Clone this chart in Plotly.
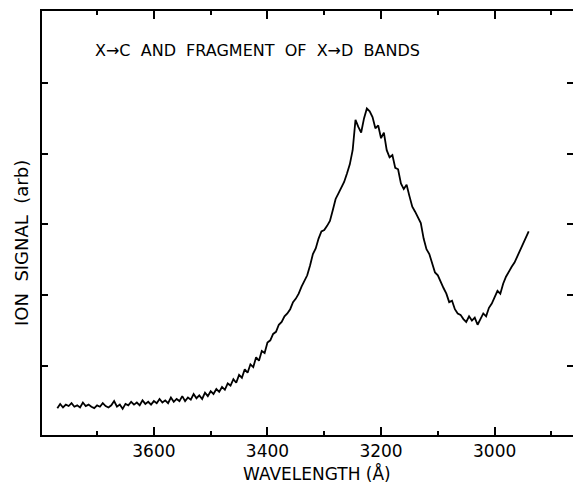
import plotly.graph_objects as go

wavelength = [
    3770, 3765, 3760, 3755, 3750, 3745, 3740, 3735, 3730, 3725,
    3720, 3715, 3710, 3705, 3700, 3695, 3690, 3685, 3680, 3675,
    3670, 3665, 3660, 3655, 3650, 3645, 3640, 3635, 3630, 3625,
    3620, 3615, 3610, 3605, 3600, 3595, 3590, 3585, 3580, 3575,
    3570, 3565, 3560, 3555, 3550, 3545, 3540, 3535, 3530, 3525,
    3520, 3515, 3510, 3505, 3500, 3495, 3490, 3485, 3480, 3475,
    3470, 3465, 3460, 3455, 3450, 3445, 3440, 3435, 3430, 3425,
    3420, 3415, 3410, 3405, 3400, 3395, 3390, 3385, 3380, 3375,
    3370, 3365, 3360, 3355, 3350, 3345, 3340, 3335, 3330, 3325,
    3320, 3315, 3310, 3305, 3300, 3295, 3290, 3285, 3280, 3275,
    3270, 3265, 3260, 3255, 3250, 3245, 3240, 3235, 3230, 3225,
    3220, 3215, 3210, 3205, 3200, 3195, 3190, 3185, 3180, 3175,
    3170, 3165, 3160, 3155, 3150, 3145, 3140, 3135, 3130, 3125,
    3120, 3115, 3110, 3105, 3100, 3095, 3090, 3085, 3080, 3075,
    3070, 3065, 3060, 3055, 3050, 3045, 3040, 3035, 3030, 3025,
    3020, 3015, 3010, 3005, 3000, 2995, 2990, 2985, 2980, 2975,
    2970, 2965, 2960, 2955, 2950, 2945, 2940,
]

ion_signal = [
    0.40, 0.46, 0.41, 0.45, 0.43, 0.47, 0.42, 0.44, 0.41, 0.48,
    0.43, 0.45, 0.42, 0.40, 0.44, 0.42, 0.47, 0.43, 0.41, 0.44,
    0.50, 0.42, 0.45, 0.39, 0.46, 0.44, 0.49, 0.45, 0.48, 0.44,
    0.51, 0.46, 0.49, 0.45, 0.50, 0.47, 0.53, 0.48, 0.51, 0.47,
    0.55, 0.49, 0.53, 0.50, 0.57, 0.50, 0.55, 0.52, 0.60, 0.54,
    0.58, 0.53, 0.62, 0.57, 0.64, 0.60, 0.67, 0.63, 0.70, 0.66,
    0.75, 0.72, 0.81, 0.76, 0.87, 0.83, 0.95, 0.90, 1.02, 0.98,
    1.12, 1.07, 1.21, 1.18, 1.33, 1.36, 1.45, 1.48, 1.58, 1.62,
    1.70, 1.74, 1.80, 1.90, 1.95, 2.02, 2.12, 2.20, 2.28, 2.42,
    2.58, 2.66, 2.80, 2.90, 2.92, 2.98, 3.05, 3.20, 3.36, 3.44,
    3.52, 3.60, 3.72, 3.85, 4.05, 4.48, 4.38, 4.30, 4.50, 4.64,
    4.60, 4.52, 4.36, 4.40, 4.22, 4.30, 4.05, 3.95, 3.98, 3.80,
    3.78, 3.58, 3.50, 3.56, 3.40, 3.25, 3.18, 3.10, 3.02, 2.80,
    2.65, 2.58, 2.45, 2.32, 2.28, 2.18, 2.10, 2.02, 1.90, 1.92,
    1.80, 1.74, 1.72, 1.66, 1.62, 1.70, 1.64, 1.68, 1.58, 1.66,
    1.74, 1.70, 1.82, 1.88, 1.96, 2.06, 2.02, 2.16, 2.26, 2.34,
    2.40, 2.46, 2.55, 2.62, 2.72, 2.80, 2.90,
]

x_tick_values = [3600, 3400, 3200, 3000]
x_tick_labels = ["3600", "3400", "3200", "3000"]
y_tick_values = [1, 2, 3, 4, 5]

panel_title = "X\u2192C  AND  FRAGMENT  OF  X\u2192D  BANDS"
x_title = "WAVELENGTH (\u00c5)"
y_title = "ION\u00a0\u00a0SIGNAL\u00a0\u00a0(arb)"

FONT = "DejaVu Sans"
Y_RANGE = [0.02, 6.02]

fig = go.Figure()
fig.add_trace(go.Scatter(
    x=wavelength, y=ion_signal, mode="lines",
    line=dict(color="black", width=1.8),
    showlegend=False, hoverinfo="skip",
))

fig.update_layout(
    width=573, height=483,
    margin=dict(l=42, r=0, t=11, b=48),
    paper_bgcolor="white", plot_bgcolor="white",
    font=dict(family=FONT, color="black", size=17),
    xaxis=dict(
        range=[3797, 2862],
        tickmode="array", tickvals=x_tick_values, ticktext=x_tick_labels,
        ticks="inside", ticklen=8, tickwidth=1.5, tickcolor="black",
        minor=dict(dtick=100, tick0=3000, ticks="inside", ticklen=4,
                   tickwidth=1.5, tickcolor="black"),
        showline=True, linecolor="black", linewidth=2, mirror="ticks",
        showgrid=False, zeroline=False,
        tickfont=dict(family=FONT, size=17, color="black"),
    ),
    yaxis=dict(
        range=Y_RANGE,
        tickmode="array", tickvals=y_tick_values,
        showticklabels=False,
        ticks="inside", ticklen=6, tickwidth=1.5, tickcolor="black",
        showline=True, linecolor="black", linewidth=2, mirror=False,
        showgrid=False, zeroline=False,
    ),
    yaxis2=dict(
        range=Y_RANGE, overlaying="y", side="right",
        tickmode="array", tickvals=y_tick_values,
        showticklabels=False,
        ticks="inside", ticklen=6, tickwidth=1.5, tickcolor="black",
        showline=False, showgrid=False, zeroline=False,
    ),
    annotations=[
        dict(text=panel_title, xref="paper", yref="paper",
             x=(93 - 42) / 531, y=(435 - 51) / 424,
             xanchor="left", yanchor="middle", showarrow=False,
             font=dict(family=FONT, size=16, color="black")),
        dict(text=x_title, xref="paper", yref="paper",
             x=(317 - 42) / 531, y=0, yshift=-38,
             xanchor="center", yanchor="middle", showarrow=False,
             font=dict(family=FONT, size=17, color="black")),
        dict(text=y_title, xref="paper", yref="paper",
             x=0, xshift=-21, y=(435 - 243) / 424,
             xanchor="center", yanchor="middle", textangle=-90,
             showarrow=False,
             font=dict(family=FONT, size=18, color="black")),
    ],
)

# invisible helper trace so the right-hand tick axis is drawn
fig.add_trace(go.Scatter(
    x=[wavelength[0]], y=[ion_signal[0]], yaxis="y2", mode="markers",
    marker=dict(opacity=0), showlegend=False, hoverinfo="skip",
))

fig.write_html("out.html")
